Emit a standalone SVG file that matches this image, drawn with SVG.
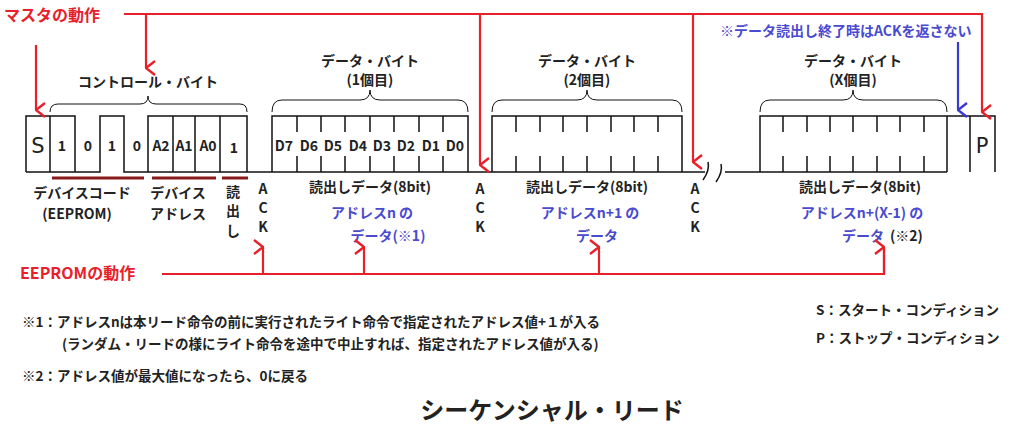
<svg xmlns="http://www.w3.org/2000/svg" width="1024" height="432" viewBox="0 0 1024 432">
<defs>
<style>
text{font-family:"Noto Sans CJK JP","Liberation Sans",sans-serif;font-weight:bold;font-size:14px;fill:#222}
.c{text-anchor:middle}
.r{fill:#e8202a;font-size:16px}
.b{fill:#4a4ad0}
.w{fill:none;stroke:#111;stroke-width:1.5}
.red{fill:none;stroke:#e8202a;stroke-width:2.2}
.blu{fill:none;stroke:#3a3ad0;stroke-width:2.2}
.ul{stroke:#8b1a1a;stroke-width:3}
.big{font-family:"DejaVu Sans",sans-serif;font-weight:normal;font-size:21px}
.n{font-size:13.5px}
</style>
<marker id="ar" viewBox="0 0 16 12" refX="8" refY="11" markerWidth="16" markerHeight="12" markerUnits="userSpaceOnUse" orient="auto-start-reverse"><path d="M1,2 L8,11 L15,2" fill="none" stroke="#e8202a" stroke-width="2.4"/></marker>
<marker id="ab" viewBox="0 0 16 12" refX="8" refY="11" markerWidth="16" markerHeight="12" markerUnits="userSpaceOnUse" orient="auto"><path d="M1,2 L8,11 L15,2" fill="none" stroke="#3a3ad0" stroke-width="2.4"/></marker>
</defs>
<rect width="1024" height="432" fill="#fff"/>
<g id="waveform">
<path class="w" d="M26,172 V116 H75 V172 H100 V116 H124 V172 H148 V116 H247 V172 H272 V116 H468 V172 H492 V116 H682 V172 H705 M725,172 H760 V116 H947 V172 M947,116 H995 V172 M26,172 H75 M148,172 H247 M50,116 V172 M173,116 V172 M195,116 V172 M220,116 V172 M272,172 H468 M492,172 H682 M760,172 H947 M970,116 V172"/>
<path class="w" d="M297,116v16M321,116v16M345,116v16M370,116v16M394,116v16M419,116v16M443,116v16M297,172v-16M321,172v-16M345,172v-16M370,172v-16M394,172v-16M419,172v-16M443,172v-16"/>
<path class="w" d="M516,116v16M540,116v16M563,116v16M587,116v16M611,116v16M634,116v16M658,116v16M516,172v-16M540,172v-16M563,172v-16M587,172v-16M611,172v-16M634,172v-16M658,172v-16"/>
<path class="w" d="M783,116v16M807,116v16M830,116v16M853,116v16M877,116v16M900,116v16M924,116v16M783,172v-16M807,172v-16M830,172v-16M853,172v-16M877,172v-16M900,172v-16M924,172v-16"/>
<path class="w" d="M703,180 Q710,170 708,162 M716,182 Q723,172 721,164"/>
<text class="big c" x="38" y="153">S</text>
<text class="big c" x="982" y="153">P</text>
<text class="c" x="62" y="151">1</text><text class="c" x="88" y="151">0</text><text class="c" x="112" y="151">1</text><text class="c" x="137" y="151">0</text>
<text class="c" x="161" y="151">A2</text><text class="c" x="184" y="151">A1</text><text class="c" x="208" y="151">A0</text><text class="c" x="234" y="153">1</text>
<text class="c" x="284" y="151">D7</text><text class="c" x="309" y="151">D6</text><text class="c" x="333" y="151">D5</text><text class="c" x="358" y="151">D4</text><text class="c" x="382" y="151">D3</text><text class="c" x="406" y="151">D2</text><text class="c" x="431" y="151">D1</text><text class="c" x="455" y="151">D0</text>
</g>
<g id="braces">
<path class="w" style="stroke-width:1" d="M50,112 Q50,104 58,104 H140 Q148,104 148,96 Q148,104 156,104 H240 Q247,104 247,112"/>
<path class="w" style="stroke-width:1" d="M272,112 Q272,100 282,100 H360 Q370,100 370,90 Q370,100 380,100 H458 Q468,100 468,112"/>
<path class="w" style="stroke-width:1" d="M492,112 Q492,100 502,100 H577 Q587,100 587,90 Q587,100 597,100 H672 Q682,100 682,112"/>
<path class="w" style="stroke-width:1" d="M760,112 Q760,100 770,100 H843 Q853,100 853,90 Q853,100 863,100 H937 Q947,100 947,112"/>
<text class="c" x="148" y="87">コントロール・バイト</text>
<text class="c" x="370" y="66">データ・バイト</text><text class="c" x="370" y="85">(1個目)</text>
<text class="c" x="587" y="66">データ・バイト</text><text class="c" x="587" y="85">(2個目)</text>
<text class="c" x="853" y="66">データ・バイト</text><text class="c" x="853" y="85">(X個目)</text>
</g>
<g id="labels">
<line class="ul" x1="52" y1="178" x2="144" y2="178"/><line class="ul" x1="152" y1="178" x2="216" y2="178"/><line class="ul" x1="222" y1="178" x2="248" y2="178"/>
<text class="c" x="82" y="198">デバイスコード</text><text class="c" x="77" y="219">(EEPROM)</text>
<text class="c" x="178" y="198">デバイス</text><text class="c" x="178" y="219">アドレス</text>
<text class="c" x="233" y="197">読</text><text class="c" x="233" y="216">出</text><text class="c" x="233" y="236">し</text>
<text class="c" x="263" y="194">A</text><text class="c" x="263" y="213">C</text><text class="c" x="263" y="232">K</text>
<text class="c" x="480" y="194">A</text><text class="c" x="480" y="213">C</text><text class="c" x="480" y="232">K</text>
<text class="c" x="695" y="194">A</text><text class="c" x="695" y="213">C</text><text class="c" x="695" y="232">K</text>
<text class="c" x="370" y="192">読出しデータ(8bit)</text>
<text class="c" x="587" y="192">読出しデータ(8bit)</text>
<text class="c" x="860" y="192">読出しデータ(8bit)</text>
<text class="c b" x="372" y="218">アドレスn の</text><text class="c b" x="388" y="241">データ(※1)</text>
<text class="c b" x="590" y="218">アドレスn+1  の</text><text class="c b" x="597" y="241">データ</text>
<text class="c b" x="862" y="218">アドレスn+(X-1) の</text><text class="b" x="842" y="241">データ</text><text x="890" y="241">(※2)</text>
<text class="b" x="720" y="36">※データ読出し終了時はACKを返さない</text>
</g>
<g id="connectors">
<text class="r" x="4" y="21">マスタの動作</text>
<path class="red" d="M124,14 H982 V112" marker-end="url(#ar)"/>
<path class="red" d="M146,14 V68" marker-end="url(#ar)"/>
<path class="red" d="M480,14 V165" marker-end="url(#ar)"/>
<path class="red" d="M693,14 V162" marker-end="url(#ar)"/>
<path class="red" d="M36,45 V110" marker-end="url(#ar)"/>
<path class="blu" d="M958,42 V110" marker-end="url(#ab)"/>
<text class="r" x="20" y="279">EEPROMの動作</text>
<path class="red" d="M162,274 H884 V247"/>
<path class="red" d="M263,274 V247" marker-end="url(#ar)"/>
<path class="red" d="M364,274 V247" marker-end="url(#ar)"/>
<path class="red" d="M599,274 V247" marker-end="url(#ar)"/>
<path class="red" d="M884,274 V247" marker-end="url(#ar)"/>
</g>
<g id="notes">
<text class="n" x="22" y="327">※1：アドレスnは本リード命令の前に実行されたライト命令で指定されたアドレス値+１が入る</text>
<text class="n" x="62" y="349">(ランダム・リードの様にライト命令を途中で中止すれば、指定されたアドレス値が入る)</text>
<text class="n" x="22" y="381">※2：アドレス値が最大値になったら、0に戻る</text>
<text class="n" x="816" y="315">S：スタート・コンディション</text>
<text class="n" x="816" y="343">P：ストップ・コンディション</text>
<text class="c" x="552" y="419" style="font-size:24px">シーケンシャル・リード</text>
</g>
</svg>
